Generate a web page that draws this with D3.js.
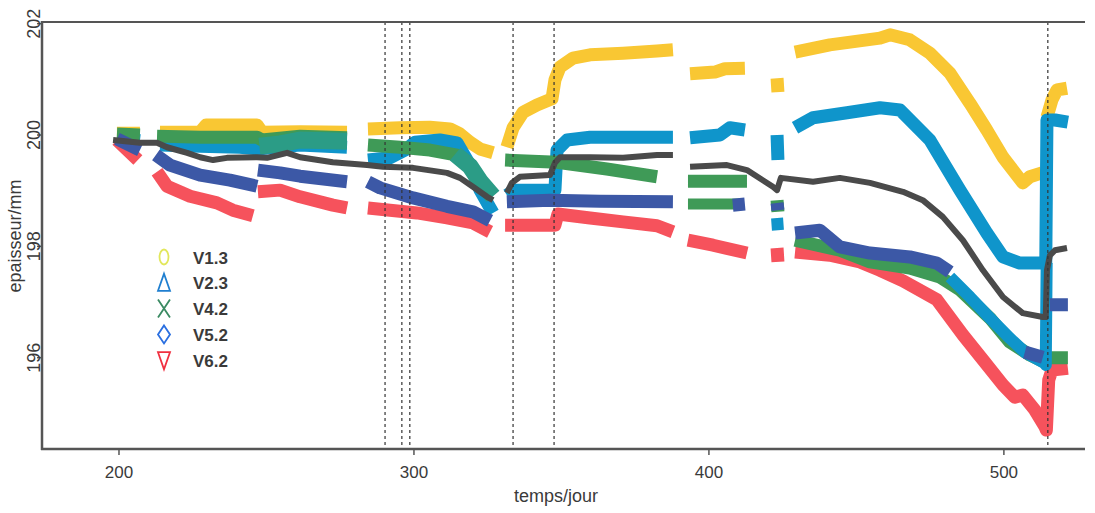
<!DOCTYPE html>
<html>
<head>
<meta charset="utf-8">
<script src="https://cdn.jsdelivr.net/npm/d3@7/dist/d3.min.js"></script>
<style>
  html, body { margin: 0; padding: 0; background: #fff; }
  svg { display: block; }
  text { font-family: "Liberation Sans", Arial, sans-serif; fill: #3a3a3a; }
</style>
</head>
<body>
<svg id="chart" width="1095" height="513"></svg>
<script>
// ---- data: [day, thickness in mm]; null = gap in recording ----
const xTicks = [200, 300, 400, 500];
const yTicks = [196, 198, 200, 202];
const eventDays = [290.2, 295.9, 298.6, 333.6, 347.5, 514.9];
const legendLabels = ["V1.3", "V2.3", "V4.2", "V5.2", "V6.2"];

const v13 = [
  [199.3,200.03],[207.1,200.03], null,
  [213.9,200.05],[227.5,200.05],[229.5,200.18],[246.8,200.18],[248.5,200.05],[261.4,200.06],[277.3,200.05], null,
  [284.4,200.11],[295.3,200.13],[305.4,200.14],[312.2,200.11],[315.6,200.02],[319.0,199.87],[322.4,199.75],[326.8,199.68], null,
  [331.5,199.78],[333.6,200.13],[337.0,200.41],[341.7,200.54],[346.8,200.65],[347.8,200.99],[349.5,201.22],[353.9,201.38],[359.7,201.44],[370.9,201.47],[382.4,201.51],[387.8,201.53], null,
  [393.6,201.10],[402.0,201.13],[405.4,201.19],[412.2,201.20], null,
  [423.1,201.02],[423.4,200.77], null,
  [429.2,201.49],[441.0,201.62],[458.0,201.74],[461.4,201.80],[468.1,201.71],[474.9,201.47],[481.7,201.11],[488.5,200.57],[494.2,200.09],[499.7,199.60],[506.4,199.14],[508.8,199.25],[512.9,199.32], null,
  [514.6,200.32],[516.3,200.63],[518.0,200.81],[521.4,200.84]
];

const v23 = [
  [199.3,199.95],[207.1,199.90], null,
  [213.9,199.82],[227.5,199.80],[241.0,199.78],[246.8,199.75],[261.4,199.82],[277.3,199.78], null,
  [284.4,199.55],[291.9,199.59],[297.0,199.73],[300.3,199.87],[308.8,199.91],[314.6,199.86],[319.0,199.46],[322.4,199.01],[326.8,198.60], null,
  [331.5,198.92],[334.2,199.01],[347.8,199.01],[348.5,199.73],[351.9,199.91],[359.7,199.96],[370.9,199.96],[387.8,199.96], null,
  [393.6,199.95],[403.7,200.00],[407.1,200.13],[412.2,200.09], null,
  [423.1,200.00],[423.4,199.55], null,
  [429.2,200.13],[435.3,200.31],[446.8,200.40],[458.0,200.49],[464.8,200.45],[474.9,199.91],[485.1,199.01],[494.2,198.24],[499.7,197.81],[505.4,197.70],[513.2,197.70],
  [514.2,197.70],[514.6,200.27],[517.3,200.27],[521.7,200.23]
];

const v23b = [
  [423.1,198.51],[423.4,198.29], null,
  [481.7,197.45],[488.5,197.09],[495.3,196.71],[502.0,196.35],[507.1,196.10],[513.9,195.90],[514.2,195.87],[514.5,197.70]
];

const v42 = [
  [199.3,200.02],[207.1,200.00], null,
  [212.9,199.98],[227.5,199.96],[246.8,199.96],[248.5,199.91],[261.4,199.98],[277.3,199.95], null,
  [284.4,199.82],[295.3,199.78],[305.4,199.73],[314.6,199.64],[319.0,199.46],[322.4,199.19],[326.8,198.92], null,
  [330.9,199.55],[348.5,199.51],[365.4,199.39],[382.4,199.25], null,
  [392.9,199.17],[412.9,199.17], null,
  [423.1,198.83],[423.4,198.62], null,
  [429.2,198.11],[444.4,197.93],[454.6,197.72],[468.1,197.61],[478.3,197.45],[485.1,197.22],[495.3,196.71],[502.0,196.28],[508.8,196.05],[513.9,195.92], null,
  [515.6,196.00],[521.7,196.00]
];

// teal-tinted stretches where V4.2 overlaps V2.3 in the scan
const v42teal = [
  [247.6,199.80],[254.6,199.84],[261.4,199.91],[277.3,199.89], null,
  [314.0,199.66],[319.0,199.44],[322.4,199.17],[326.8,198.90]
];

const v42b = [
  [392.9,198.76],[410.5,198.76]
];

const v52 = [
  [199.3,199.93],[207.1,199.73], null,
  [212.5,199.64],[217.3,199.46],[227.5,199.28],[237.6,199.19],[246.8,199.08], null,
  [247.1,199.37],[254.6,199.32],[261.4,199.26],[277.3,199.16], null,
  [284.4,199.16],[288.5,199.05],[299.7,198.87],[311.2,198.72],[320.0,198.62],[325.8,198.46], null,
  [331.5,198.80],[346.1,198.83],[363.1,198.81],[387.8,198.80], null,
  [408.1,198.74],[412.2,198.76], null,
  [423.1,198.78],[423.4,198.65], null,
  [429.2,198.24],[437.6,198.29],[444.4,197.99],[454.6,197.88],[468.1,197.81],[477.3,197.70],[481.7,197.54], null,
  [507.1,196.10],[513.2,196.01], null,
  [515.6,196.95],[521.7,196.95]
];

const v62 = [
  [199.3,199.91],[206.4,199.55], null,
  [212.9,199.34],[216.3,199.08],[224.1,198.90],[233.2,198.78],[238.6,198.65],[245.4,198.55], null,
  [247.1,198.98],[254.6,199.01],[261.4,198.89],[272.5,198.74],[277.3,198.69], null,
  [284.4,198.69],[291.9,198.65],[301.0,198.60],[311.2,198.51],[320.0,198.42],[325.8,198.26], null,
  [330.9,198.38],[347.8,198.38],[348.8,198.58],[359.7,198.51],[370.9,198.44],[382.4,198.37],[387.8,198.26], null,
  [392.9,198.11],[401.4,198.02],[412.9,197.88], null,
  [423.1,197.97],[423.4,197.72], null,
  [429.2,197.90],[441.0,197.84],[451.2,197.72],[458.0,197.57],[465.8,197.38],[477.3,197.04],[486.1,196.41],[492.9,195.96],[499.7,195.51],[503.7,195.29],[506.4,195.33],[510.5,195.06],[513.9,194.76],
  [514.4,194.70],[515.2,195.60],[516.3,195.78],[521.7,195.81]
];

const vMoy = [
  [198.0,199.91],[207.1,199.86],[212.9,199.86],[216.3,199.78],[223.1,199.68],[227.5,199.60],[231.9,199.55],[236.6,199.59],[246.8,199.60],[250.2,199.59],[257.0,199.68],[261.4,199.60],[272.5,199.51],[284.1,199.46],[289.5,199.43],[299.7,199.41],[311.2,199.32],[315.6,199.23],[320.0,199.07],[324.8,198.89],[326.8,198.83], null,
  [331.5,198.96],[333.2,199.14],[335.9,199.25],[346.1,199.28],[347.8,199.50],[349.5,199.60],[359.7,199.60],[370.9,199.59],[382.4,199.64],[387.8,199.64], null,
  [393.6,199.43],[406.1,199.46],[412.9,199.37],[421.7,199.07],[423.1,199.01],[424.4,199.23],[435.3,199.16],[444.4,199.23],[454.6,199.14],[465.8,198.98],[472.5,198.83],[479.3,198.53],[486.1,198.11],[492.9,197.57],[499.7,197.09],[506.4,196.80],[513.2,196.73],
  [514.2,196.73],[514.6,197.57],[515.6,197.84],[517.3,197.93],[521.4,197.97]
];

// ---- drawing ----
(function () {
const svg = d3.select("#chart");
const mL = 42, mR = 1085, mT = 22, mB = 449;
const x = d3.scaleLinear().domain([173.9, 527.5]).range([mL, mR]);
const y = d3.scaleLinear().domain([194.36, 202.03]).range([mB, mT]);

const traces = [
  { data: v13,     color: "#f9c733", w: 13 },
  { data: v23,     color: "#0f95cb", w: 13 },
  { data: v62,     color: "#f6525c", w: 13 },
  { data: v42,     color: "#3f9a57", w: 13 },
  { data: v42teal, color: "#2b9c86", w: 17 },
  { data: v42b,    color: "#3f9a57", w: 11 },
  { data: v23b,    color: "#0f95cb", w: 12 },
  { data: v52,     color: "#3c58a6", w: 13 },
  { data: vMoy,    color: "#4a4a4a", w: 6 }
];

const line = d3.line()
  .defined(d => d !== null)
  .x(d => x(d[0]))
  .y(d => y(d[1]));

const g = svg.append("g");
traces.forEach(t => {
  g.append("path")
    .attr("d", line(t.data))
    .attr("fill", "none")
    .attr("stroke", t.color)
    .attr("stroke-width", t.w)
    .attr("stroke-linejoin", "round")
    .attr("stroke-linecap", "butt");
});

// event lines
svg.append("g").selectAll("line").data(eventDays).join("line")
  .attr("x1", d => x(d)).attr("x2", d => x(d))
  .attr("y1", mT).attr("y2", mB)
  .attr("stroke", "#333").attr("stroke-width", 1.2)
  .attr("stroke-dasharray", "3,3");

// frame
svg.append("line").attr("x1", mL).attr("x2", mR).attr("y1", mT).attr("y2", mT)
  .attr("stroke", "#555").attr("stroke-width", 2);
svg.append("line").attr("x1", mL).attr("x2", mL).attr("y1", mT - 1).attr("y2", mB + 1)
  .attr("stroke", "#555").attr("stroke-width", 2.5);
svg.append("line").attr("x1", mL - 1).attr("x2", mR).attr("y1", mB).attr("y2", mB)
  .attr("stroke", "#555").attr("stroke-width", 2.5);

// x ticks
const xt = svg.append("g");
xt.selectAll("line").data(xTicks).join("line")
  .attr("x1", d => x(d)).attr("x2", d => x(d))
  .attr("y1", mB).attr("y2", mB + 6)
  .attr("stroke", "#555").attr("stroke-width", 1.5);
xt.selectAll("text").data(xTicks).join("text")
  .attr("x", d => x(d)).attr("y", 478)
  .attr("text-anchor", "middle")
  .style("font-size", "17px")
  .text(d => d);

// y ticks
const yt = svg.append("g");
yt.selectAll("line").data(yTicks).join("line")
  .attr("x1", mL - 5).attr("x2", mL)
  .attr("y1", d => y(d)).attr("y2", d => y(d))
  .attr("stroke", "#555").attr("stroke-width", 1.5);
yt.selectAll("text").data(yTicks).join("text")
  .attr("transform", d => `translate(40,${y(d)}) rotate(-90)`)
  .attr("text-anchor", "middle")
  .style("font-size", "18px")
  .text(d => d);

// axis titles
svg.append("text")
  .attr("transform", "translate(21,236) rotate(-90)")
  .attr("text-anchor", "middle")
  .style("font-size", "18px")
  .text("epaisseur/mm");
svg.append("text")
  .attr("x", 556).attr("y", 502)
  .attr("text-anchor", "middle")
  .style("font-size", "18px")
  .text("temps/jour");

// legend
const legendSymbols = [
  { path: "M0,-7.5 A4.5,7.5 0 1,1 0,7.5 A4.5,7.5 0 1,1 0,-7.5 Z", color: "#e2e75c" },
  { path: "M0,-9 L6,8 L-6,8 Z", color: "#1f7fd0" },
  { path: "M-6,-9 L6,9 M6,-9 L-6,9", color: "#3a8a62" },
  { path: "M0,-9 L6,0 L0,9 L-6,0 Z", color: "#2a6fe0" },
  { path: "M-6,-8 L6,-8 L0,9 Z", color: "#f03040" }
];
const lg = svg.append("g");
legendLabels.forEach((name, i) => {
  const cy = 257 + i * 25.8;
  lg.append("path")
    .attr("transform", `translate(164,${cy})`)
    .attr("d", legendSymbols[i].path)
    .attr("fill", "none")
    .attr("stroke", legendSymbols[i].color)
    .attr("stroke-width", 1.8);
  lg.append("text")
    .attr("x", 193).attr("y", cy + 6.5)
    .style("font-size", "17px")
    .style("font-weight", "bold")
    .style("fill", "#3a3a3a")
    .text(name);
});
})();
</script>
</body>
</html>
